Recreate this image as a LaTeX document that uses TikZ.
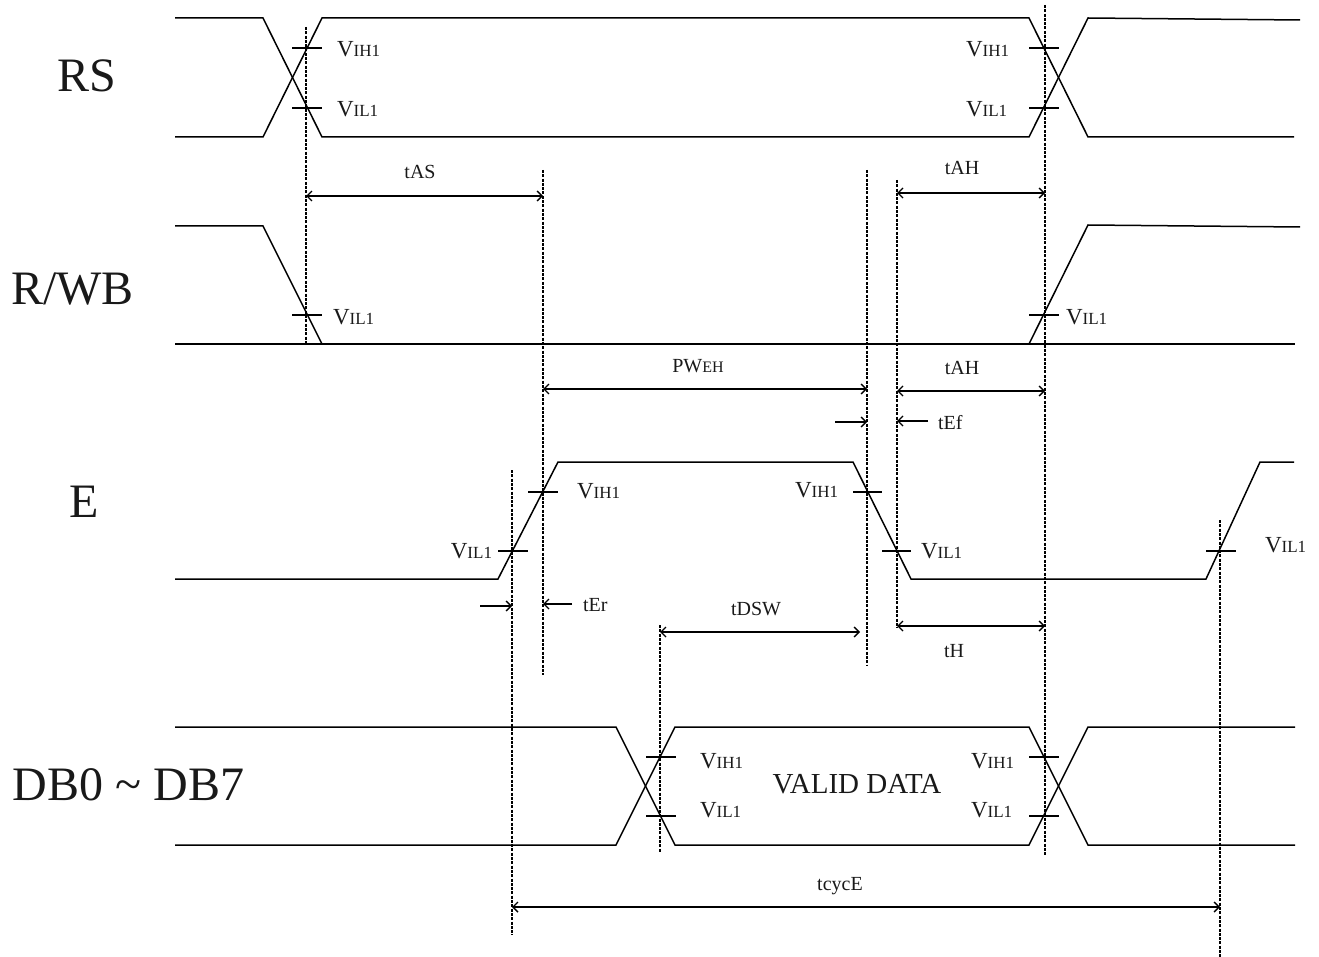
\documentclass[tikz,border=0pt]{standalone}
\usepackage{fontspec}
\setmainfont{Liberation Serif}
\usetikzlibrary{arrows.meta}
\newcommand\VV[1]{{\fontsize{23}{23}\selectfont V}{\fontsize{17}{17}\selectfont #1}}
\newcommand\TL{\fontsize{20}{20}\selectfont}
\tikzset{
  sig/.style={line width=1.5pt, line join=miter},
  tickmark/.style={line width=2.4pt},
  guide/.style={line width=1.5pt, dash pattern=on 3pt off 1.3pt},
  barb/.tip={Straight Barb[length=5pt,width=10pt]},
  dimarrow/.style={line width=1.4pt, barb-barb},
  halfarrow/.style={line width=1.4pt, -barb},
  lbl/.style={inner sep=0pt, outer sep=0pt, text=black!90},
  big/.style={lbl, font=\fontsize{48}{48}\selectfont, anchor=base},
}
\begin{document}
\begin{tikzpicture}[x=1pt,y=-1pt]
\useasboundingbox (0,0) rectangle (1319,957);
% ---------- signal names
\node[big] (nRS) at (87,92) {RS};
\node[big] (nRW) at (72.5,305) {R/WB};
\node[big] (nE) at (84,517) {E};
\node[big] (nDB) at (128.5,800) {DB0 \textasciitilde{} DB7};
% ---------- RS
\draw[sig] (175,18) -- (263,18) -- (322,137) -- (1029,137) -- (1088,18) -- (1300,20);
\draw[sig] (175,137) -- (263,137) -- (322,18) -- (1029,18) -- (1088,137) -- (1294,137);
\draw[tickmark] (292,48) -- (322,48);
\draw[tickmark] (292,108) -- (322,108);
\draw[tickmark] (1029,48) -- (1059,48);
\draw[tickmark] (1029,108) -- (1059,108);
\node[lbl,anchor=base west] (rs1) at (337,57) {\VV{IH1}};
\node[lbl,anchor=base west] (rs2) at (337,117) {\VV{IL1}};
\node[lbl,anchor=base west] (rs3) at (966,57) {\VV{IH1}};
\node[lbl,anchor=base west] (rs4) at (966,117) {\VV{IL1}};
% ---------- R/WB
\draw[sig] (175,226) -- (263,226) -- (322,344);
\draw[sig] (175,344) -- (1295,344);
\draw[sig] (1029,344) -- (1088,225) -- (1300,227);
\draw[tickmark] (292,315) -- (322,315);
\draw[tickmark] (1029,315) -- (1059,315);
\node[lbl,anchor=base west] (rw1) at (333,325) {\VV{IL1}};
\node[lbl,anchor=base west] (rw2) at (1066,324) {\VV{IL1}};
% ---------- E
\draw[sig] (175,579) -- (498,579) -- (558,462) -- (853,462) -- (911,579) -- (1206,579) -- (1260,462) -- (1294,462);
\draw[tickmark] (498,551) -- (528,551);
\draw[tickmark] (528,492) -- (558,492);
\draw[tickmark] (853,492) -- (882,492);
\draw[tickmark] (882,551) -- (911,551);
\draw[tickmark] (1206,551) -- (1236,551);
\node[lbl,anchor=base east] (e1) at (492,558) {\VV{IL1}};
\node[lbl,anchor=base west] (e2) at (577,498) {\VV{IH1}};
\node[lbl,anchor=base west] (e3) at (795,497) {\VV{IH1}};
\node[lbl,anchor=base west] (e4) at (921,558) {\VV{IL1}};
\node[lbl,anchor=base west] (e5) at (1265,552) {\VV{IL1}};
% ---------- DB0~DB7
\draw[sig] (175,727) -- (616,727) -- (675,845) -- (1029,845) -- (1088,727) -- (1295,727);
\draw[sig] (175,845) -- (616,845) -- (675,727) -- (1029,727) -- (1088,845) -- (1295,845);
\draw[tickmark] (646,757) -- (676,757);
\draw[tickmark] (646,816) -- (676,816);
\draw[tickmark] (1029,757) -- (1059,757);
\draw[tickmark] (1029,816) -- (1059,816);
\node[lbl,anchor=base west] (d1) at (700,768) {\VV{IH1}};
\node[lbl,anchor=base west] (d2) at (700,817) {\VV{IL1}};
\node[lbl,anchor=base west] (d3) at (971,768) {\VV{IH1}};
\node[lbl,anchor=base west] (d4) at (971,817) {\VV{IL1}};
\node[lbl,anchor=base, font=\fontsize{29}{29}\selectfont] (valid) at (857,793) {VALID DATA};
% ---------- guide lines
\coordinate (g1a) at (306,27);   \coordinate (g1b) at (306,345);
\coordinate (g2a) at (543,170);  \coordinate (g2b) at (543,675);
\coordinate (g3a) at (867,170);  \coordinate (g3b) at (867,665);
\coordinate (g4a) at (897,180);  \coordinate (g4b) at (897,628);
\coordinate (g5a) at (1045,5);   \coordinate (g5b) at (1045,855);
\coordinate (g6a) at (512,470);  \coordinate (g6b) at (512,935);
\coordinate (g7a) at (660,625);  \coordinate (g7b) at (660,852);
\coordinate (g8a) at (1220,520); \coordinate (g8b) at (1220,957);
\foreach \g in {1,...,8} \draw[guide] (g\g a) -- (g\g b);
% ---------- timing arrows
\draw[dimarrow] (g1a |- 0,196) -- (g2a |- 0,196);
\node[lbl,anchor=base] (tAS) at (420,179) {\TL tAS};
\draw[dimarrow] (g4a |- 0,193) -- (g5a |- 0,193);
\node[lbl,anchor=base] (tAH1) at (962,175) {\TL tAH};
\draw[dimarrow] (g2a |- 0,389) -- (g3a |- 0,389);
\node[lbl,anchor=base] (pweh) at (698,372) {\TL PW{\fontsize{16}{16}\selectfont EH}};
\draw[dimarrow] (g4a |- 0,391) -- (g5a |- 0,391);
\node[lbl,anchor=base] (tAH2) at (962,374) {\TL tAH};
\coordinate (tef1) at (835,422);
\coordinate (tef2) at (928,421);
\draw[halfarrow] (tef1) -- (g3a |- tef1);
\draw[halfarrow] (tef2) -- (g4a |- tef2);
\node[lbl,anchor=base west] (tEf) at (938,429) {\TL tEf};
\coordinate (ter1) at (480,606);
\coordinate (ter2) at (572,604);
\draw[halfarrow] (ter1) -- (g6a |- ter1);
\draw[halfarrow] (ter2) -- (g2a |- ter2);
\node[lbl,anchor=base west] (tEr) at (583,611) {\TL tEr};
\coordinate (tdswR) at (860,632);
\draw[dimarrow] (g7a |- tdswR) -- (tdswR);
\node[lbl,anchor=base] (tDSW) at (756,615) {\TL tDSW};
\draw[dimarrow] (g4a |- 0,626) -- (g5a |- 0,626);
\node[lbl,anchor=base] (tH) at (954,657) {\TL tH};
\draw[dimarrow] (g6a |- 0,907) -- (g8a |- 0,907);
\node[lbl,anchor=base] (tcyc) at (840,890) {\TL tcycE};
\end{tikzpicture}
\end{document}
